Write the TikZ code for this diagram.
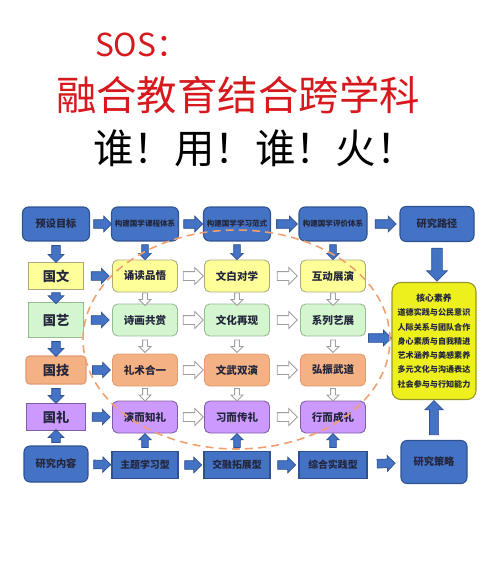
\documentclass[tikz,border=0pt]{standalone}
\usepackage{fontspec}
\setmainfont{Noto Sans CJK SC}
\usetikzlibrary{shapes.arrows}

\definecolor{titleRed}{RGB}{215,25,30}
\definecolor{inkDark}{RGB}{35,38,60}
\definecolor{blueFill}{RGB}{68,114,196}
\definecolor{blueEdge}{RGB}{47,82,143}
\definecolor{wenFill}{RGB}{255,255,153}
\definecolor{wenEdge}{RGB}{170,170,125}
\definecolor{yiFill}{RGB}{212,246,206}
\definecolor{yiEdge}{RGB}{150,185,150}
\definecolor{jiFill}{RGB}{244,177,131}
\definecolor{jiEdge}{RGB}{225,155,115}
\definecolor{liFill}{RGB}{204,153,255}
\definecolor{liEdge}{RGB}{125,95,165}
\definecolor{coreFill}{RGB}{238,240,30}
\definecolor{coreEdge}{RGB}{150,150,40}
\definecolor{dashOrange}{RGB}{240,160,110}

\begin{document}
\begin{tikzpicture}[x=0.02cm, y=-0.02cm,
    every node/.style={inner sep=1pt, text=inkDark},
    topBox/.style={draw=blueEdge, fill=blueFill, rounded corners=3.4pt, line width=0.6pt,
      minimum width=1.34cm, minimum height=0.68cm},
    tinyText/.style={font=\bfseries\fontsize{4.3}{5}\selectfont},
    smallText/.style={font=\bfseries\fontsize{5.8}{6}\selectfont},
    sideBox/.style={line width=0.6pt, minimum width=1.1cm, minimum height=0.54cm,
      font=\bfseries\fontsize{7.5}{8}\selectfont},
    cellBox/.style={rounded corners=3pt, line width=0.5pt, minimum width=1.3cm,
      minimum height=0.64cm, font=\bfseries\fontsize{6}{7}\selectfont},
    wenCell/.style={cellBox, fill=wenFill, draw=wenEdge},
    yiCell/.style={cellBox, fill=yiFill, draw=yiEdge},
    jiCell/.style={cellBox, fill=jiFill, draw=jiEdge},
    liCell/.style={cellBox, fill=liFill, draw=liEdge},
    typeBox/.style={draw=blueEdge, fill=blueFill, line width=0.6pt, minimum width=1.32cm,
      minimum height=0.54cm, font=\bfseries\fontsize{5.6}{6}\selectfont},
    coreBox/.style={draw=coreEdge, fill=coreFill, rounded corners=5pt, line width=0.6pt,
      minimum width=1.68cm, minimum height=2.34cm, align=center,
      font=\bfseries\fontsize{4.6}{8.1}\selectfont},
    blueArrow/.style={single arrow, draw=blueEdge, fill=blueFill, line width=0.4pt,
      inner xsep=0pt, inner ysep=0.08cm, minimum width=0pt, minimum height=0.34cm,
      single arrow head extend=0.07cm},
    slimArrow/.style={blueArrow, inner ysep=0.06cm, single arrow head extend=0.06cm},
    bigArrow/.style={blueArrow, inner ysep=0.1cm, single arrow head extend=0.1cm},
    hollowArrow/.style={single arrow, draw=gray!75, fill=white, line width=0.5pt,
      inner xsep=0pt, inner ysep=0.08cm, minimum width=0pt, minimum height=0.4cm,
      single arrow head extend=0.08cm},
    hollowDown/.style={hollowArrow, inner ysep=0.04cm, minimum height=0.25cm,
      single arrow head extend=0.07cm}
  ]
  \useasboundingbox (0,0) rectangle (500,587);

  % titles
  \node[anchor=west, text=titleRed, font=\fontsize{18}{20}\selectfont] (sosLine) at (93,45) {SOS：};
  \node[text=titleRed, font=\fontsize{23}{25}\selectfont] (mainTitle) at (238,95) {融合教育结合跨学科};
  \node[text=black, font=\fontsize{23}{25}\selectfont] (subTitle) at (255,148) {谁！用！谁！火！};

  % top row
  \node[topBox, smallText] (presetGoal) at (56,224) {预设目标};
  \node[topBox, tinyText] (courseSystem) at (145,224) {构建国学课程体系};
  \node[topBox, tinyText] (learnMode) at (237,224) {构建国学学习范式};
  \node[topBox, tinyText, minimum width=1.36cm] (evalSystem) at (333,224) {构建国学评价体系};
  \node[topBox, smallText, minimum width=1.48cm, minimum height=0.7cm] (researchPath) at (437,224) {研究路径};

  % left column
  \node[sideBox, fill=wenFill, draw=wenEdge] (guoWen) at (56,276) {国文};
  \node[sideBox, fill=yiFill, draw=yiEdge, minimum height=0.7cm] (guoYi) at (56,320) {国艺};
  \node[sideBox, fill=jiFill, draw=jiEdge, rounded corners=2pt, minimum width=1.2cm, minimum height=0.56cm] (guoJi) at (56,370) {国技};
  \node[sideBox, fill=liFill, draw=liEdge, minimum width=1.18cm] (guoLi) at (56,417) {国礼};

  % grid
  \node[wenCell] (wenA) at (courseSystem|-guoWen) {诵读品悟};
  \node[wenCell] (wenB) at (learnMode|-guoWen) {文白对学};
  \node[wenCell] (wenC) at (evalSystem|-guoWen) {互动展演};
  \node[yiCell] (yiA) at (courseSystem|-guoYi) {诗画共赏};
  \node[yiCell] (yiB) at (learnMode|-guoYi) {文化再现};
  \node[yiCell] (yiC) at (evalSystem|-guoYi) {系列艺展};
  \node[jiCell] (jiA) at (courseSystem|-guoJi) {礼术合一};
  \node[jiCell] (jiB) at (learnMode|-guoJi) {文武双演};
  \node[jiCell] (jiC) at (evalSystem|-guoJi) {弘振武道};
  \node[liCell] (liA) at (courseSystem|-guoLi) {演而知礼};
  \node[liCell] (liB) at (learnMode|-guoLi) {习而传礼};
  \node[liCell] (liC) at (evalSystem|-guoLi) {行而成礼};

  % bottom row
  \node[topBox, smallText, minimum width=1.28cm, minimum height=0.72cm] (researchContent) at (56,464) {研究内容};
  \node[typeBox] (themeType) at (145,465) {主题学习型};
  \node[typeBox] (blendType) at (237,465) {交融拓展型};
  \node[typeBox, minimum width=1.36cm] (practiceType) at (333,465) {综合实践型};
  \node[topBox, smallText, minimum width=1.32cm, minimum height=0.86cm] (researchStrategy) at (434,462) {研究策略};

  \node[coreBox] (coreLiteracy) at (434,341) {{\fontsize{5}{8.1}\selectfont 核心素养}\\道德实践与公民意识\\人际关系与团队合作\\身心素质与自我精进\\艺术涵养与美感素养\\多元文化与沟通表达\\社会参与与行知能力};
  \coordinate (gridOut) at (364,338);

  % blue arrows
  \path (presetGoal) -- node[blueArrow, sloped, minimum height=0.36cm] {} (courseSystem);
  \path (courseSystem) -- node[blueArrow, sloped, minimum height=0.38cm] {} (learnMode);
  \path (learnMode) -- node[blueArrow, sloped, minimum height=0.42cm] {} (evalSystem);
  \path (evalSystem) -- node[blueArrow, sloped, minimum height=0.42cm] {} (researchPath);
  \path (presetGoal) -- node[blueArrow, sloped] {} (guoWen);
  \path (guoWen) -- node[blueArrow, sloped, minimum height=0.22cm] {} (guoYi);
  \path (guoYi) -- node[blueArrow, sloped, minimum height=0.3cm] {} (guoJi);
  \path (guoJi) -- node[blueArrow, sloped, minimum height=0.3cm] {} (guoLi);
  \path (researchContent) -- node[blueArrow, sloped, minimum height=0.26cm] {} (guoLi);
  \path (guoWen) -- node[blueArrow, sloped, minimum height=0.36cm] {} (wenA);
  \path (guoYi) -- node[blueArrow, sloped, minimum height=0.36cm] {} (yiA);
  \path (guoJi) -- node[blueArrow, sloped, minimum height=0.36cm] {} (jiA);
  \path (guoLi) -- node[blueArrow, sloped, minimum height=0.36cm] {} (liA);
  \path (courseSystem) -- node[slimArrow, sloped, minimum height=0.3cm] {} (wenA);
  \path (learnMode) -- node[slimArrow, sloped, minimum height=0.3cm] {} (wenB);
  \path (evalSystem) -- node[slimArrow, sloped, minimum height=0.3cm] {} (wenC);
  \path (themeType) -- node[slimArrow, sloped, minimum height=0.28cm] {} (liA);
  \path (blendType) -- node[slimArrow, sloped, minimum height=0.28cm] {} (liB);
  \path (practiceType) -- node[slimArrow, sloped, minimum height=0.28cm] {} (liC);
  \path (researchContent) -- node[blueArrow, sloped] {} (themeType);
  \path (themeType) -- node[blueArrow, sloped] {} (blendType);
  \path (blendType) -- node[blueArrow, sloped, minimum height=0.36cm] {} (practiceType);
  \path (practiceType) -- node[blueArrow, sloped, minimum height=0.36cm] {} (researchStrategy);
  \path (researchPath.south) -- node[bigArrow, sloped, minimum height=0.66cm] {} (researchPath.south|-coreLiteracy.north);
  \path (researchStrategy) -- node[bigArrow, sloped, minimum height=0.68cm, inner ysep=0.085cm, single arrow head extend=0.09cm] {} (coreLiteracy);
  \path (gridOut) -- node[blueArrow, sloped, minimum height=0.46cm] {} (gridOut-|coreLiteracy.west);

  % hollow arrows
  \path (wenA) -- node[hollowArrow, sloped] {} (wenB);
  \path (wenB) -- node[hollowArrow, sloped] {} (wenC);
  \path (yiA) -- node[hollowArrow, sloped] {} (yiB);
  \path (yiB) -- node[hollowArrow, sloped] {} (yiC);
  \path (jiA) -- node[hollowArrow, sloped] {} (jiB);
  \path (jiB) -- node[hollowArrow, sloped] {} (jiC);
  \path (liA) -- node[hollowArrow, sloped] {} (liB);
  \path (liB) -- node[hollowArrow, sloped] {} (liC);
  \path (wenA) -- node[hollowDown, sloped] {} (yiA);
  \path (wenB) -- node[hollowDown, sloped] {} (yiB);
  \path (wenC) -- node[hollowDown, sloped] {} (yiC);
  \path (yiA) -- node[hollowDown, sloped] {} (jiA);
  \path (yiB) -- node[hollowDown, sloped] {} (jiB);
  \path (yiC) -- node[hollowDown, sloped] {} (jiC);
  \path (jiA) -- node[hollowDown, sloped] {} (liA);
  \path (jiB) -- node[hollowDown, sloped] {} (liB);
  \path (jiC) -- node[hollowDown, sloped] {} (liC);

  \draw[dashOrange, line width=0.9pt, dash pattern=on 4.5pt off 3pt] (236.5,339.5) ellipse [x radius=3.07cm, y radius=2.19cm];
\end{tikzpicture}
\end{document}
